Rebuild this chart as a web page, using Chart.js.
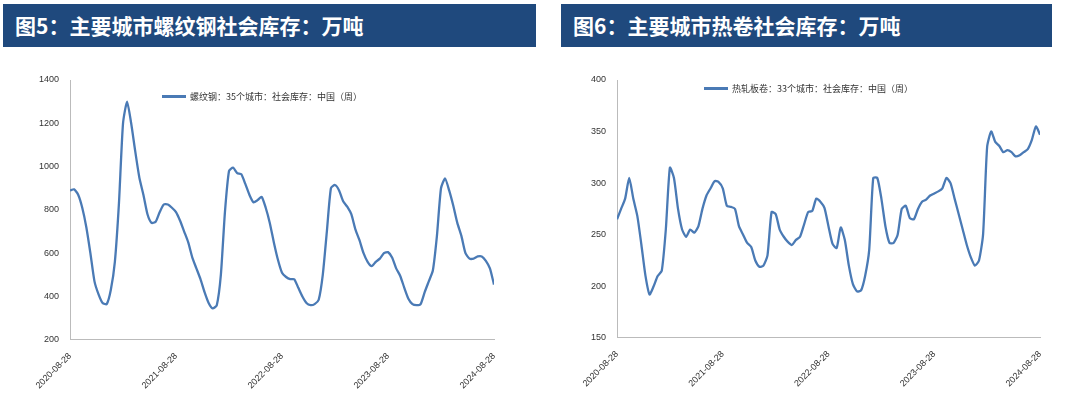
<!DOCTYPE html>
<html><head><meta charset="utf-8">
<script src="https://cdn.jsdelivr.net/npm/chart.js@4/dist/chart.umd.min.js"></script>
<style>
body{margin:0;width:1066px;height:403px;background:#fff;position:relative;overflow:hidden;font-family:"Noto Sans CJK SC",sans-serif}
.ban{position:absolute;top:4px;height:43px;background:#1f497d;color:#fff;font-weight:bold;font-size:21px;line-height:43px;padding-left:12px;box-sizing:border-box}
.cw{position:absolute;top:70px;height:333px}
.lg{position:absolute;font-size:9px;color:#333;display:flex;align-items:center;white-space:nowrap}
.lg span{display:inline-block;width:24px;height:2.5px;background:#4a7ab5;margin-right:4px}
</style></head><body>
<div class="ban" style="left:3px;width:533px">图5：主要城市螺纹钢社会库存：万吨</div>
<div class="ban" style="left:561px;width:491px">图6：主要城市热卷社会库存：万吨</div>
<div class="cw" style="left:0;width:530px"><canvas id="c1"></canvas></div>
<div class="cw" style="left:540px;width:526px"><canvas id="c2"></canvas></div>
<div class="lg" id="l1" style="left:162px;top:90px"><span></span></div>
<div class="lg" id="l2" style="left:704px;top:82px"><span></span></div>
<script>
const tickLabels=["2020-08-28","2021-08-28","2022-08-28","2023-08-28","2024-08-28"];
const rebarName="螺纹钢：35个城市：社会库存：中国（周）";
const hrcName="热轧板卷：33个城市：社会库存：中国（周）";
const rebar=[890,895,870,810,720,600,470,410,370,365,430,560,830,1200,1300,1200,1070,950,870,780,740,745,790,825,825,810,790,750,700,650,580,530,480,420,370,345,360,500,790,980,995,970,965,920,870,835,845,860,810,740,650,570,510,490,480,480,440,400,370,360,365,385,500,700,900,915,890,840,815,780,710,660,600,560,540,560,575,600,605,580,530,495,440,390,365,360,365,420,470,520,680,900,945,890,820,740,680,600,575,575,585,585,565,530,455];
const hrc=[265,275,285,305,285,268,240,210,192,200,210,215,255,315,305,275,255,248,255,252,258,275,288,295,302,301,295,278,277,275,258,250,242,238,225,219,220,230,272,270,255,248,243,240,245,248,260,272,273,285,282,276,258,241,237,257,245,220,202,195,196,210,235,305,305,285,258,242,242,250,275,278,266,265,275,282,284,288,290,292,295,305,300,285,270,255,240,228,220,225,250,335,350,340,336,330,332,330,326,327,330,333,342,355,347];
const weeks=rebar.map((_,i)=>i*2);
document.getElementById('l1').append(rebarName);
document.getElementById('l2').append(hrcName);
function mk(id,name,vals,min,max,step,pad){
  new Chart(document.getElementById(id),{type:'line',
    data:{datasets:[{label:name,data:vals.map((v,i)=>({x:weeks[i],y:v})),borderColor:'#4a7ab5',borderWidth:2.3,pointRadius:0,tension:0.2}]},
    options:{responsive:true,maintainAspectRatio:false,animation:false,
      layout:{padding:pad},
      plugins:{legend:{display:false},tooltip:{enabled:false}},
      scales:{
        x:{type:'linear',min:0,max:208,grid:{display:false},border:{color:'#bbb'},
          afterBuildTicks:a=>{a.ticks=tickLabels.map((_,i)=>({value:i*52}));},
          ticks:{maxRotation:45,minRotation:45,font:{size:9},color:'#333',callback:(v)=>tickLabels[Math.round(v/52)]}},
        y:{min:min,max:max,grid:{display:false},border:{color:'#bbb'},ticks:{stepSize:step,font:{size:9},color:'#333',callback:v=>String(v)}}
      }}});
}
mk('c1',rebarName,rebar,200,1400,200,{left:36,right:36,top:10,bottom:9});
mk('c2',hrcName,hrc,150,400,50,{left:48,right:26,top:10,bottom:11});
</script></body></html>
